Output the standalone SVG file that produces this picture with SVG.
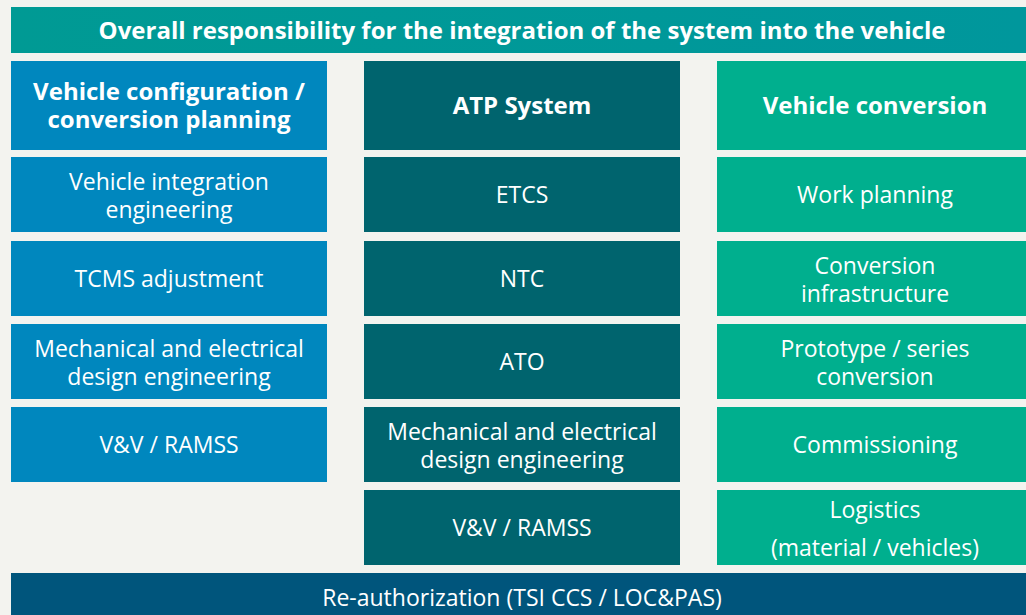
<svg xmlns="http://www.w3.org/2000/svg" width="1026" height="615" viewBox="0 0 1026 615">
<defs>
<linearGradient id="gTop" x1="0" y1="0" x2="1" y2="0">
<stop offset="0" stop-color="#009a94"/>
<stop offset="1" stop-color="#00979c"/>
</linearGradient>
<style>
text{font-family:"Open Sans","Noto Sans",sans-serif;fill:#fff;text-anchor:middle;}
.h{font-weight:bold;font-size:24px;}
.t{font-size:23px;}
.b{fill:#0087be;}
.d{fill:#00646e;}
.g{fill:#00af8e;}
</style>
</defs>
<rect width="1026" height="615" fill="#f3f3ef"/>
<g id="top"><rect x="11" y="7" width="1015" height="46" fill="url(#gTop)"/><text class="h" x="522" y="39">Overall responsibility for the integration of the system into the vehicle</text></g>
<g id="c1h"><rect class="b" x="11" y="61" width="316" height="89"/><text class="h" x="169" y="100">Vehicle configuration /</text><text class="h" x="169" y="128">conversion planning</text></g>
<g id="c2h"><rect class="d" x="364" y="61" width="316" height="89"/><text class="h" x="522" y="114">ATP System</text></g>
<g id="c3h"><rect class="g" x="717" y="61" width="309" height="89"/><text class="h" x="875" y="114">Vehicle conversion</text></g>
<g id="c1r1"><rect class="b" x="11" y="157" width="316" height="75"/><text class="t" x="169" y="190">Vehicle integration</text><text class="t" x="169" y="218">engineering</text></g>
<g id="c1r2"><rect class="b" x="11" y="241" width="316" height="75"/><text class="t" x="169" y="287">TCMS adjustment</text></g>
<g id="c1r3"><rect class="b" x="11" y="324" width="316" height="75"/><text class="t" x="169" y="357">Mechanical and electrical</text><text class="t" x="169" y="385">design engineering</text></g>
<g id="c1r4"><rect class="b" x="11" y="407" width="316" height="75"/><text class="t" x="169" y="453">V&amp;V / RAMSS</text></g>
<g id="c2r1"><rect class="d" x="364" y="157" width="316" height="75"/><text class="t" x="522" y="203">ETCS</text></g>
<g id="c2r2"><rect class="d" x="364" y="241" width="316" height="75"/><text class="t" x="522" y="287">NTC</text></g>
<g id="c2r3"><rect class="d" x="364" y="324" width="316" height="75"/><text class="t" x="522" y="370">ATO</text></g>
<g id="c2r4"><rect class="d" x="364" y="407" width="316" height="75"/><text class="t" x="522" y="440">Mechanical and electrical</text><text class="t" x="522" y="468">design engineering</text></g>
<g id="c2r5"><rect class="d" x="364" y="490" width="316" height="75"/><text class="t" x="522" y="536">V&amp;V / RAMSS</text></g>
<g id="c3r1"><rect class="g" x="717" y="157" width="309" height="75"/><text class="t" x="875" y="203">Work planning</text></g>
<g id="c3r2"><rect class="g" x="717" y="241" width="309" height="75"/><text class="t" x="875" y="274">Conversion</text><text class="t" x="875" y="302">infrastructure</text></g>
<g id="c3r3"><rect class="g" x="717" y="324" width="309" height="75"/><text class="t" x="875" y="357">Prototype / series</text><text class="t" x="875" y="385">conversion</text></g>
<g id="c3r4"><rect class="g" x="717" y="407" width="309" height="75"/><text class="t" x="875" y="453">Commissioning</text></g>
<g id="c3r5"><rect class="g" x="717" y="490" width="309" height="75"/><text class="t" x="875" y="518">Logistics</text><text class="t" x="875" y="556">(material / vehicles)</text></g>
<g id="bottom"><rect x="11" y="573" width="1015" height="42" fill="#00557c"/><text class="t" x="522" y="606">Re-authorization (TSI CCS / LOC&amp;PAS)</text></g>
</svg>
